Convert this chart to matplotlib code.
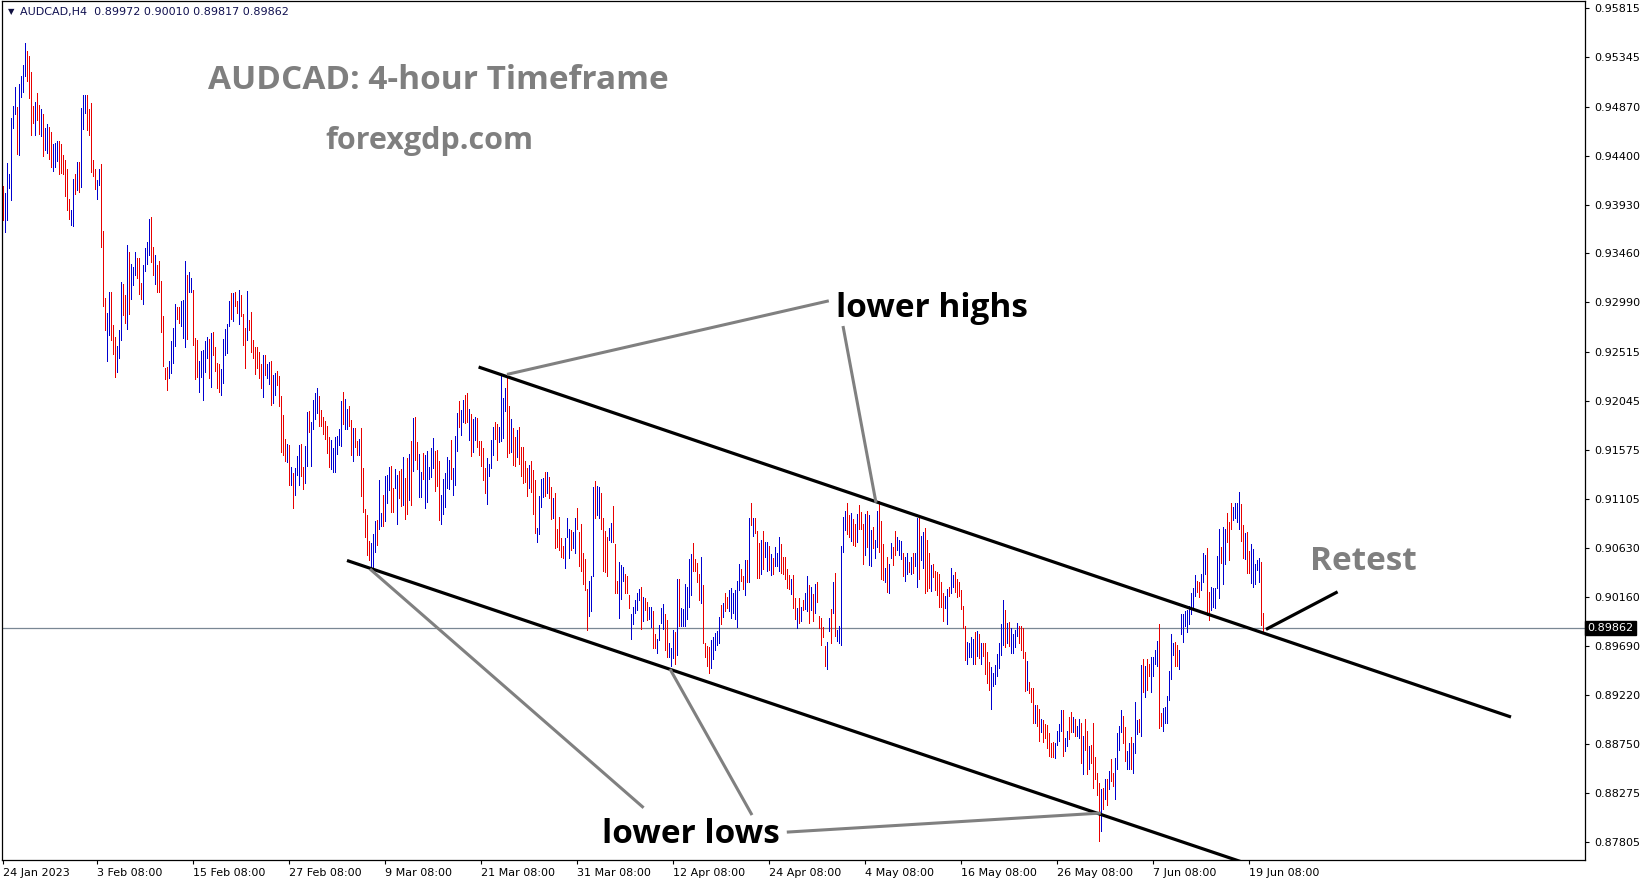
"""
AUDCAD H4 chart with descending channel, breakout and retest annotations.
"""

import numpy as np
import pandas as pd
import matplotlib

matplotlib.use("Agg")
import matplotlib.pyplot as plt
import matplotlib.transforms as mtransforms

# Bars: high / low per H4 bar, b = up bar, r = down bar
first_bar = "2023-01-24 12:00"

highs = [
    0.9411, 0.9404, 0.9433, 0.9422, 0.9476, 0.9488, 0.9506, 0.9487, 0.9509, 0.9517,
    0.9527, 0.9548, 0.9541, 0.9536, 0.9520, 0.9488, 0.9492, 0.9500, 0.9489, 0.9485,
    0.9480, 0.9467, 0.9470, 0.9468, 0.9463, 0.9451, 0.9452, 0.9454, 0.9454, 0.9451,
    0.9441, 0.9436, 0.9427, 0.9398, 0.9388, 0.9418, 0.9422, 0.9434, 0.9434, 0.9486,
    0.9498, 0.9498, 0.9498, 0.9485, 0.9491, 0.9436, 0.9427, 0.9417, 0.9427, 0.9432,
    0.9368, 0.9303, 0.9289, 0.9309, 0.9309, 0.9277, 0.9266, 0.9257, 0.9272, 0.9319,
    0.9317, 0.9306, 0.9354, 0.9347, 0.9336, 0.9333, 0.9347, 0.9342, 0.9342, 0.9318,
    0.9335, 0.9351, 0.9357, 0.9379, 0.9381, 0.9352, 0.9345, 0.9335, 0.9339, 0.9320,
    0.9286, 0.9236, 0.9237, 0.9243, 0.9262, 0.9274, 0.9297, 0.9295, 0.9295, 0.9300,
    0.9301, 0.9339, 0.9325, 0.9328, 0.9322, 0.9311, 0.9265, 0.9263, 0.9243, 0.9252,
    0.9253, 0.9262, 0.9266, 0.9264, 0.9270, 0.9271, 0.9256, 0.9241, 0.9240, 0.9235,
    0.9264, 0.9273, 0.9278, 0.9300,
    0.9308, 0.9308, 0.9309, 0.9300, 0.9311, 0.9306, 0.9288, 0.9274, 0.9310, 0.9282,
    0.9290, 0.9263, 0.9256, 0.9256, 0.9251, 0.9240, 0.9248, 0.9248, 0.9240, 0.9242,
    0.9243, 0.9229, 0.9231, 0.9233, 0.9228, 0.9209, 0.9191, 0.9168, 0.9163, 0.9162,
    0.9141, 0.9135, 0.9140, 0.9151, 0.9162, 0.9163, 0.9141, 0.9161, 0.9194, 0.9195,
    0.9184, 0.9205, 0.9212, 0.9217, 0.9209, 0.9196, 0.9189, 0.9185, 0.9180, 0.9170,
    0.9167, 0.9159, 0.9170, 0.9171, 0.9177, 0.9204, 0.9213, 0.9206, 0.9197, 0.9199,
    0.9186, 0.9178, 0.9178, 0.9166, 0.9168, 0.9178, 0.9140, 0.9100, 0.9095, 0.9070,
    0.9068, 0.9076, 0.9089, 0.9090, 0.9128, 0.9097, 0.9114, 0.9132, 0.9133, 0.9141,
    0.9142, 0.9121, 0.9139, 0.9133, 0.9137, 0.9139, 0.9150, 0.9130, 0.9149, 0.9153,
    0.9166, 0.9188, 0.9189, 0.9165, 0.9153, 0.9136, 0.9154, 0.9152, 0.9156, 0.9141,
    0.9159, 0.9169, 0.9156, 0.9157, 0.9147, 0.9114, 0.9129, 0.9135, 0.9150, 0.9148,
    0.9167, 0.9140, 0.9171, 0.9193, 0.9204, 0.9196, 0.9205, 0.9210, 0.9212, 0.9197,
    0.9192, 0.9187, 0.9189, 0.9188, 0.9166,
    0.9166, 0.9159, 0.9140, 0.9149, 0.9144, 0.9167, 0.9179, 0.9184, 0.9182, 0.9179,
    0.9229, 0.9207, 0.9217, 0.9230, 0.9199, 0.9187, 0.9178, 0.9170, 0.9176, 0.9179,
    0.9160, 0.9160, 0.9147, 0.9140, 0.9143, 0.9147, 0.9138, 0.9128, 0.9082, 0.9113,
    0.9129, 0.9130, 0.9136, 0.9136, 0.9131, 0.9122, 0.9111, 0.9116, 0.9081, 0.9093,
    0.9073, 0.9065, 0.9073, 0.9092, 0.9081, 0.9080, 0.9078, 0.9092, 0.9101, 0.9078,
    0.9086, 0.9058, 0.9052, 0.9024, 0.9031, 0.9036, 0.9122, 0.9127, 0.9123, 0.9122,
    0.9116, 0.9092, 0.9079, 0.9074, 0.9082, 0.9087, 0.9103, 0.9067, 0.9031, 0.9050,
    0.9047, 0.9045, 0.9038, 0.9036, 0.9018, 0.9000, 0.9006, 0.9013, 0.9020, 0.9024,
    0.9026, 0.9016, 0.9015, 0.9011, 0.9006, 0.9006, 0.9002, 0.8980, 0.8976, 0.8989,
    0.9005, 0.9009, 0.9000, 0.8994, 0.8972, 0.8967, 0.8984, 0.8982, 0.9033, 0.9033,
    0.9005, 0.9004, 0.9028, 0.9026, 0.9052, 0.9057, 0.9068, 0.9052, 0.9049, 0.9038,
    0.9054, 0.9027, 0.8972, 0.8969, 0.8968, 0.8975, 0.8977, 0.8981, 0.8983, 0.8997,
    0.9008, 0.9010, 0.9020, 0.9016, 0.9023, 0.9025, 0.9020, 0.9023, 0.9031, 0.9048,
    0.9043, 0.9036, 0.9051, 0.9051, 0.9092, 0.9106, 0.9092, 0.9092, 0.9079, 0.9068,
    0.9071, 0.9079, 0.9069, 0.9069, 0.9065, 0.9057, 0.9053, 0.9064, 0.9058, 0.9074,
    0.9067, 0.9054, 0.9054, 0.9043, 0.9037, 0.9033, 0.9037, 0.9015, 0.9005, 0.9015,
    0.9006, 0.9013, 0.9020, 0.9036, 0.9027, 0.9026, 0.9019, 0.9028, 0.9030, 0.8998,
    0.8996, 0.8987, 0.8969, 0.8973, 0.8996, 0.9004, 0.9030, 0.9039, 0.8984, 0.8988,
    0.9065, 0.9093, 0.9099, 0.9106, 0.9095, 0.9097, 0.9091, 0.9086, 0.9096, 0.9104,
    0.9098, 0.9086, 0.9096, 0.9099, 0.9095, 0.9080, 0.9083, 0.9071, 0.9099, 0.9108,
    0.9089, 0.9067, 0.9044, 0.9054, 0.9048, 0.9068, 0.9064, 0.9079, 0.9074, 0.9071,
    0.9070, 0.9058, 0.9054, 0.9058, 0.9050, 0.9054, 0.9058, 0.9058, 0.9092, 0.9092,
    0.9075, 0.9078, 0.9082, 0.9071, 0.9058, 0.9047, 0.9048, 0.9041, 0.9040, 0.9038,
    0.9030, 0.9020, 0.9017, 0.9024, 0.9026, 0.9044, 0.9037, 0.9040, 0.9033, 0.9030,
    0.9023, 0.9007, 0.8988, 0.8973, 0.8972, 0.8977, 0.8976, 0.8982, 0.8983, 0.8980,
    0.8972, 0.8972, 0.8972, 0.8963, 0.8953, 0.8949, 0.8943, 0.8951, 0.8961, 0.8972,
    0.8990, 0.9013, 0.9003, 0.8991, 0.8992, 0.8986, 0.8980, 0.8984, 0.8991, 0.8988,
    0.8988, 0.8986, 0.8963, 0.8954, 0.8934, 0.8928, 0.8928, 0.8912, 0.8912, 0.8908,
    0.8899, 0.8898, 0.8894, 0.8893, 0.8885, 0.8876, 0.8877, 0.8876, 0.8887, 0.8894,
    0.8907, 0.8907, 0.8880, 0.8887, 0.8901, 0.8905, 0.8901, 0.8899, 0.8892, 0.8899,
    0.8895, 0.8882, 0.8899, 0.8887, 0.8873, 0.8874, 0.8895, 0.8862, 0.8847, 0.8837,
    0.8831, 0.8832, 0.8841, 0.8841, 0.8849, 0.8860, 0.8847, 0.8861, 0.8885, 0.8892,
    0.8907, 0.8902, 0.8891, 0.8868, 0.8876, 0.8881, 0.8876, 0.8915, 0.8898, 0.8899,
    0.8951, 0.8956, 0.8950, 0.8956, 0.8952, 0.8958, 0.8958, 0.8965, 0.8974, 0.8990,
    0.8904, 0.8909, 0.8910, 0.8921, 0.8945, 0.8980, 0.8972, 0.8973, 0.8970, 0.8965,
    0.9000, 0.9000, 0.9002, 0.9003, 0.9007, 0.9020, 0.9025, 0.9037, 0.9031, 0.9030,
    0.9038, 0.9058, 0.9056, 0.9063, 0.9021, 0.9026, 0.9025, 0.9025, 0.9055, 0.9081,
    0.9064, 0.9083, 0.9081, 0.9097, 0.9088, 0.9106, 0.9102, 0.9106, 0.9106, 0.9117,
    0.9105, 0.9085, 0.9077, 0.9078, 0.9060, 0.9067, 0.9062, 0.9048, 0.9051, 0.9053,
    0.9050, 0.9001,
]

lows = [
    0.9378, 0.9367, 0.9378, 0.9409, 0.9397, 0.9467, 0.9480, 0.9442, 0.9441, 0.9496,
    0.9501, 0.9517, 0.9512, 0.9495, 0.9460, 0.9471, 0.9460, 0.9474, 0.9461, 0.9459,
    0.9440, 0.9445, 0.9443, 0.9437, 0.9429, 0.9425, 0.9429, 0.9435, 0.9422, 0.9423,
    0.9422, 0.9401, 0.9388, 0.9379, 0.9373, 0.9372, 0.9403, 0.9407, 0.9405, 0.9410,
    0.9466, 0.9481, 0.9465, 0.9460, 0.9424, 0.9420, 0.9408, 0.9398, 0.9412, 0.9352,
    0.9296, 0.9272, 0.9243, 0.9268, 0.9263, 0.9249, 0.9227, 0.9232, 0.9246, 0.9263,
    0.9287, 0.9279, 0.9273, 0.9288, 0.9302, 0.9316, 0.9325, 0.9322, 0.9307, 0.9302,
    0.9297, 0.9329, 0.9336, 0.9345, 0.9338, 0.9325, 0.9317, 0.9309, 0.9309, 0.9271,
    0.9238, 0.9225, 0.9215, 0.9226, 0.9231, 0.9241, 0.9257, 0.9283, 0.9279, 0.9276,
    0.9265, 0.9256, 0.9264, 0.9309, 0.9309, 0.9258, 0.9225, 0.9227, 0.9213, 0.9227,
    0.9205, 0.9232, 0.9246, 0.9226, 0.9218, 0.9248, 0.9233, 0.9217, 0.9213, 0.9210,
    0.9222, 0.9248, 0.9250, 0.9276,
    0.9283, 0.9281, 0.9296, 0.9289, 0.9278, 0.9286, 0.9258, 0.9236, 0.9263, 0.9272,
    0.9251, 0.9246, 0.9230, 0.9236, 0.9226, 0.9217, 0.9208, 0.9229, 0.9226, 0.9221,
    0.9200, 0.9202, 0.9210, 0.9220, 0.9199, 0.9155, 0.9152, 0.9147, 0.9146, 0.9124,
    0.9124, 0.9101, 0.9114, 0.9133, 0.9124, 0.9132, 0.9120, 0.9125, 0.9142, 0.9174,
    0.9142, 0.9177, 0.9187, 0.9193, 0.9180, 0.9180, 0.9173, 0.9168, 0.9154, 0.9141,
    0.9139, 0.9136, 0.9136, 0.9153, 0.9162, 0.9161, 0.9182, 0.9177, 0.9177, 0.9180,
    0.9152, 0.9147, 0.9160, 0.9152, 0.9152, 0.9113, 0.9098, 0.9074, 0.9056, 0.9051,
    0.9044, 0.9044, 0.9059, 0.9066, 0.9081, 0.9084, 0.9084, 0.9089, 0.9106, 0.9119,
    0.9098, 0.9098, 0.9121, 0.9086, 0.9111, 0.9103, 0.9104, 0.9091, 0.9096, 0.9109,
    0.9104, 0.9137, 0.9148, 0.9139, 0.9112, 0.9112, 0.9129, 0.9101, 0.9107, 0.9129,
    0.9131, 0.9140, 0.9118, 0.9123, 0.9090, 0.9086, 0.9096, 0.9102, 0.9121, 0.9120,
    0.9129, 0.9114, 0.9124, 0.9156, 0.9179, 0.9172, 0.9184, 0.9183, 0.9184, 0.9167,
    0.9151, 0.9155, 0.9167, 0.9160, 0.9152,
    0.9142, 0.9128, 0.9116, 0.9105, 0.9132, 0.9140, 0.9152, 0.9168, 0.9148, 0.9165,
    0.9166, 0.9169, 0.9195, 0.9150, 0.9154, 0.9155, 0.9143, 0.9142, 0.9150, 0.9144,
    0.9132, 0.9125, 0.9126, 0.9113, 0.9121, 0.9117, 0.9096, 0.9077, 0.9069, 0.9076,
    0.9102, 0.9112, 0.9113, 0.9116, 0.9111, 0.9091, 0.9092, 0.9063, 0.9064, 0.9061,
    0.9054, 0.9053, 0.9044, 0.9074, 0.9053, 0.9061, 0.9063, 0.9058, 0.9081, 0.9046,
    0.9041, 0.9028, 0.9023, 0.8984, 0.8998, 0.9002, 0.9036, 0.9092, 0.9095, 0.9092,
    0.9081, 0.9041, 0.9040, 0.9036, 0.9071, 0.9069, 0.9069, 0.9020, 0.9020, 0.8996,
    0.9014, 0.9031, 0.9020, 0.9020, 0.9005, 0.8976, 0.8990, 0.9001, 0.9003, 0.9013,
    0.8985, 0.8993, 0.9003, 0.8994, 0.8995, 0.8987, 0.8967, 0.8967, 0.8962, 0.8975,
    0.8991, 0.8985, 0.8965, 0.8958, 0.8958, 0.8950, 0.8957, 0.8952, 0.8960, 0.8988,
    0.8988, 0.8988, 0.8988, 0.8995, 0.9006, 0.9018, 0.9041, 0.9041, 0.9030, 0.9013,
    0.9010, 0.8972, 0.8958, 0.8950, 0.8943, 0.8948, 0.8956, 0.8965, 0.8970, 0.8972,
    0.8990, 0.8997, 0.9002, 0.9005, 0.9002, 0.8996, 0.9001, 0.8995, 0.8987, 0.9023,
    0.9031, 0.9024, 0.9018, 0.9030, 0.9030, 0.9085, 0.9075, 0.9077, 0.9034, 0.9034,
    0.9038, 0.9043, 0.9054, 0.9041, 0.9042, 0.9037, 0.9038, 0.9046, 0.9046, 0.9041,
    0.9039, 0.9038, 0.9033, 0.9025, 0.9024, 0.9019, 0.9005, 0.8995, 0.8986, 0.8991,
    0.8993, 0.9003, 0.9004, 0.9002, 0.8991, 0.9003, 0.8993, 0.9001, 0.9011, 0.8986,
    0.8970, 0.8977, 0.8950, 0.8947, 0.8983, 0.8972, 0.9001, 0.8978, 0.8974, 0.8972,
    0.8970, 0.9059, 0.9080, 0.9076, 0.9074, 0.9070, 0.9066, 0.9065, 0.9069, 0.9081,
    0.9081, 0.9048, 0.9056, 0.9064, 0.9047, 0.9046, 0.9063, 0.9053, 0.9064, 0.9059,
    0.9033, 0.9032, 0.9030, 0.9021, 0.9020, 0.9053, 0.9047, 0.9056, 0.9061, 0.9056,
    0.9052, 0.9036, 0.9031, 0.9038, 0.9040, 0.9038, 0.9039, 0.9046, 0.9026, 0.9033,
    0.9051, 0.9044, 0.9020, 0.9022, 0.9025, 0.9022, 0.9035, 0.9023, 0.9018, 0.9006,
    0.9006, 0.8993, 0.9005, 0.8990, 0.9017, 0.9020, 0.9026, 0.9021, 0.9016, 0.9017,
    0.9004, 0.8986, 0.8955, 0.8952, 0.8958, 0.8958, 0.8952, 0.8952, 0.8959, 0.8957,
    0.8952, 0.8959, 0.8942, 0.8933, 0.8927, 0.8908, 0.8930, 0.8932, 0.8940, 0.8948,
    0.8960, 0.8970, 0.8968, 0.8972, 0.8969, 0.8962, 0.8962, 0.8968, 0.8978, 0.8972,
    0.8965, 0.8957, 0.8926, 0.8927, 0.8924, 0.8915, 0.8895, 0.8895, 0.8892, 0.8878,
    0.8886, 0.8877, 0.8880, 0.8871, 0.8863, 0.8862, 0.8862, 0.8861, 0.8874, 0.8878,
    0.8887, 0.8863, 0.8868, 0.8873, 0.8879, 0.8886, 0.8886, 0.8882, 0.8882, 0.8880,
    0.8856, 0.8846, 0.8869, 0.8846, 0.8851, 0.8856, 0.8832, 0.8841, 0.8826, 0.8781,
    0.8791, 0.8812, 0.8822, 0.8816, 0.8831, 0.8839, 0.8834, 0.8822, 0.8851, 0.8869,
    0.8886, 0.8876, 0.8858, 0.8851, 0.8851, 0.8851, 0.8847, 0.8866, 0.8884, 0.8886,
    0.8882, 0.8925, 0.8920, 0.8927, 0.8940, 0.8925, 0.8940, 0.8952, 0.8950, 0.8890,
    0.8892, 0.8887, 0.8895, 0.8895, 0.8917, 0.8937, 0.8960, 0.8950, 0.8950, 0.8947,
    0.8980, 0.8973, 0.8988, 0.8982, 0.8990, 0.9000, 0.9006, 0.9017, 0.9021, 0.9016,
    0.9023, 0.9030, 0.9038, 0.8999, 0.8994, 0.9003, 0.9006, 0.9005, 0.9025, 0.9015,
    0.9049, 0.9028, 0.9048, 0.9069, 0.9051, 0.9081, 0.9090, 0.9092, 0.9088, 0.9081,
    0.9070, 0.9053, 0.9052, 0.9039, 0.9039, 0.9029, 0.9026, 0.9028, 0.9042, 0.9030,
    0.8989, 0.8982,
]

direction = (
    "rbbbbbbrbb" "bbrrrrbrrb" "rbbrrbbbrr" "rrrrbbrbrb" "bbrrrrrbbr"
    "rrbbrrrbbb" "rrbrbbbrrr" "bbbbrrbrrr" "rrrbbbbrrb" "bbrbbrrrbb"
    "bbbrbrrrrb" "bbbb"
    "rbrrbrrrbr" "rrrrrrbrbb" "rbbrrrrrbr" "brbbbrrbbr" "bbbbrrrrrr"
    "bbbbbbrbbr" "rbrrbrrrrr" "bbbrbbrbbb" "rrbbrrbrrb" "rbrrbbrbbb"
    "bbrrrbbbbb" "rbbbrbbrrb" "rbbrr"
    "rrrbbbbrrb" "bbbrrbrrbr" "rrrrbrrrbb" "bbrbrrbrrr" "rrbbbrbbrr"
    "rrrrbbbrbb" "rrrrbbrrrb" "bbrrrbbbbb" "rbrrbbrrbb" "bbrrbbbrbr"
    "bbbbbbrrrr" "brrrrbbbbb" "rbrrbbbbbb" "rrbrbrbrrr"
    "brbbrbrbbb" "rrrrrbrrbr" "brbbrbrbrr" "rrrbbrbrbb" "bbbrrbrrbr"
    "rrbrbbrbbr" "rrbrbbrrbb" "brbbrbrbbr" "bbrrrbrrrr" "rrbbrbbrrr"
    "rrrbbbbrbr" "brrrrbbbbb" "bbrbrbbbbr"
    "rrrbrrrbrr" "brrrrrrbbb" "brbbrrbrbb" "rbrrbrrrrr" "brbrbrrbbb"
    "brrbbrbbbr" "brbrrbbbbr" "rbbbbbbrrb" "bbbbbbbbrr" "bbbrrbbbbb"
    "rbbrrrbbbb" "rrbrrbbbbb" "rr"
)

# open, high, low, close of the last bar (shown in the chart header)
last_ohlc = [0.89972, 0.90010, 0.89817, 0.89862]

price_ticks = [0.95815, 0.95345, 0.94870, 0.94400, 0.93930, 0.93460, 0.92990,
               0.92515, 0.92045, 0.91575, 0.91105, 0.90630, 0.90160, 0.89690,
               0.89220, 0.88750, 0.88275, 0.87805]

date_ticks = ["2023-01-24 12:00", "2023-02-03 08:00", "2023-02-15 08:00",
              "2023-02-27 08:00", "2023-03-09 08:00", "2023-03-21 08:00",
              "2023-03-31 08:00", "2023-04-12 08:00", "2023-04-24 08:00",
              "2023-05-04 08:00", "2023-05-16 08:00", "2023-05-26 08:00",
              "2023-06-07 08:00", "2023-06-19 08:00"]
date_labels = ["24 Jan 2023", "3 Feb 08:00", "15 Feb 08:00", "27 Feb 08:00",
               "9 Mar 08:00", "21 Mar 08:00", "31 Mar 08:00", "12 Apr 08:00",
               "24 Apr 08:00", "4 May 08:00", "16 May 08:00", "26 May 08:00",
               "7 Jun 08:00", "19 Jun 08:00"]

assert len(highs) == len(lows) == len(direction)

# H4 bar times, weekdays only (6 bars a day)
times = pd.date_range(first_bar, periods=len(highs) * 2, freq="4h")
times = times[times.dayofweek < 5][: len(highs)]
x = np.arange(len(highs))
tick_pos = [times.get_loc(pd.Timestamp(t)) for t in date_ticks]

W, H = 1649, 884
fig = plt.figure(figsize=(W / 100, H / 100), dpi=100)
ax = fig.add_axes([2 / W, 24 / H, 1583 / W, 859 / H])
ax.set_xlim(-0.5, 791)
ax.set_ylim(0.87632, 0.95886)

colors = ["#0000d0" if d == "b" else "#e80000" for d in direction]
ax.vlines(x, lows, highs, colors=colors, linewidth=0.72, antialiased=False,
          snap=True, zorder=2)

# current price line
ax.axhline(last_ohlc[3], color="#7a8794", linewidth=0.9, zorder=1)

# channel lines and retest arrow
black_lines = [
    ((237.8, 754.0), (0.92369, 0.89006)),
    ((172.0, 640.0), (0.90510, 0.87480)),
    ((631.5, 667.3), (0.89848, 0.90209)),
]
for xs, ys in black_lines:
    ax.plot(xs, ys, color="black", linewidth=2.3, solid_capstyle="butt", zorder=3)

# grey pointer lines from labels
grey_lines = [
    ((252.0, 412.9), (0.92298, 0.93005)),
    ((420.0, 436.5), (0.92763, 0.91065)),
    ((183.5, 320.3), (0.90428, 0.88134)),
    ((333.5, 374.5), (0.89467, 0.88064)),
    ((391.9, 549.0), (0.87900, 0.88083)),
]
for xs, ys in grey_lines:
    ax.plot(xs, ys, color="#808080", linewidth=2.2, solid_capstyle="butt", zorder=3)

label_font = dict(family="Open Sans", weight="bold", ha="left", va="baseline", zorder=4)
ax.text(102.6, 0.95038, "AUDCAD: 4-hour Timeframe", fontsize=24, color="#7f7f7f", **label_font)
ax.text(161.0, 0.94462, "forexgdp.com", fontsize=22, color="#7f7f7f", **label_font)
ax.text(416.5, 0.92853, "lower highs", fontsize=24, color="black", **label_font)
ax.text(299.3, 0.87800, "lower lows", fontsize=24, color="black", **label_font)
ax.text(653.5, 0.90418, "Retest", fontsize=24, color="#7f7f7f", **label_font)

# axes styling like the MT4 window
for side in ["top", "bottom", "left", "right"]:
    ax.spines[side].set_linewidth(0.9)
    ax.spines[side].set_color("black")

ax.yaxis.tick_right()
ax.set_yticks(price_ticks)
ax.set_yticklabels([f"{p:.5f}" for p in price_ticks])
ax.tick_params(axis="y", direction="out", length=3, width=0.8, pad=4, labelsize=8)

ax.set_xticks(tick_pos)
ax.set_xticklabels(date_labels)
for lbl in ax.get_xticklabels():
    lbl.set_horizontalalignment("left")
ax.tick_params(axis="x", direction="out", length=3, width=0.8, pad=2.5, labelsize=8)

# price box on the right axis
trans = mtransforms.blended_transform_factory(ax.transAxes, ax.transData)
ax.text(1.0015, last_ohlc[3], f"{last_ohlc[3]:.5f}", transform=trans, color="white",
        fontsize=8, ha="left", va="center", clip_on=False, zorder=5,
        bbox=dict(boxstyle="square,pad=0.2", facecolor="black", edgecolor="black"))

# header line
fig.text(8 / W, 1 - 12 / H, "\u25bc", fontsize=6, va="center", color="#101040")
fig.text(20 / W, 1 - 12 / H, "AUDCAD,H4  " + " ".join(f"{v:.5f}" for v in last_ohlc),
         fontsize=8, va="center", color="#101050")

fig.savefig("out.png", dpi=100)
